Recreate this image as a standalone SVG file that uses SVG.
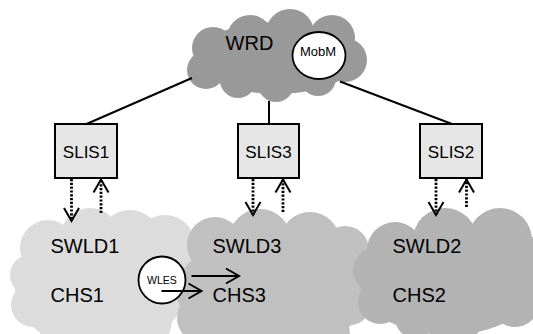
<svg xmlns="http://www.w3.org/2000/svg" width="533" height="334" viewBox="0 0 533 334">
<defs>
<style>
text{font-family:"Liberation Sans",Arial,sans-serif;fill:#000;text-anchor:middle}
.lbl{font-size:20px;text-anchor:start}
.box{fill:#e6e6e6;stroke:#000;stroke-width:2}
.slis{font-size:17px}
.conn{stroke:#000;stroke-width:2;fill:none}
.dot{stroke:#000;stroke-width:2.8;stroke-dasharray:2.2 1.6;fill:none}
.circ{fill:#fff;stroke:#000;stroke-width:1.8}
</style>
<marker id="v" markerUnits="userSpaceOnUse" markerWidth="20" markerHeight="20" orient="auto" overflow="visible" refX="0" refY="0">
<path d="M-13,-7.5 L0,0 L-13,7.5" fill="none" stroke="#000" stroke-width="2" stroke-dasharray="none"/>
</marker>
</defs>

<g id="SWLD1">
<g fill="#dcdcdc">
<ellipse cx="100" cy="290" rx="85" ry="60"/>
<circle cx="48" cy="248" r="28"/>
<circle cx="90" cy="238" r="30"/>
<circle cx="130" cy="240" r="30"/>
<circle cx="165" cy="245" r="30"/>
<circle cx="178" cy="262" r="20"/>
<circle cx="30" cy="275" r="20"/>
<circle cx="33" cy="305" r="22"/>
<circle cx="75" cy="335" r="35"/>
<circle cx="140" cy="320" r="32"/>
</g>
<text class="lbl" x="50.5" y="253">SWLD1</text>
<text class="lbl" x="50.5" y="301.5">CHS1</text>
</g>

<g id="SWLD3">
<g fill="#c0c0c0">
<ellipse cx="272" cy="292" rx="95" ry="60"/>
<circle cx="215" cy="245" r="28"/>
<circle cx="260" cy="240" r="31"/>
<circle cx="310" cy="242" r="30"/>
<circle cx="345" cy="250" r="24"/>
<circle cx="195" cy="287" r="22"/>
<circle cx="202" cy="318" r="25"/>
<circle cx="250" cy="335" r="35"/>
<circle cx="315" cy="335" r="35"/>
<circle cx="350" cy="305" r="20"/>
</g>
<text class="lbl" x="212.5" y="253">SWLD3</text>
<text class="lbl" x="212.5" y="301.5">CHS3</text>
</g>

<g id="SWLD2">
<g fill="#b3b3b3">
<ellipse cx="448" cy="283" rx="88" ry="52"/>
<circle cx="395" cy="250" r="28"/>
<circle cx="445" cy="240" r="32"/>
<circle cx="500" cy="240" r="32"/>
<circle cx="530" cy="262" r="25"/>
<circle cx="375" cy="270" r="22"/>
<circle cx="380" cy="302" r="22"/>
<circle cx="415" cy="318" r="20"/>
<circle cx="460" cy="320" r="22"/>
<circle cx="515" cy="303" r="24"/>
</g>
<text class="lbl" x="392.5" y="253">SWLD2</text>
<text class="lbl" x="392.5" y="301.5">CHS2</text>
</g>

<g id="WRD">
<g fill="#999999">
<ellipse cx="277" cy="58" rx="80" ry="36"/>
<circle cx="213" cy="48" r="21"/>
<circle cx="250" cy="38" r="23"/>
<circle cx="290" cy="33" r="24"/>
<circle cx="332" cy="38" r="23"/>
<circle cx="345" cy="60" r="22"/>
<circle cx="206" cy="70" r="19"/>
<circle cx="238" cy="80" r="18"/>
<circle cx="276" cy="84" r="18"/>
<circle cx="318" cy="78" r="18"/>
</g>
<text x="249.5" y="50" style="font-size:20px">WRD</text>
</g>

<g id="MobM">
<ellipse class="circ" cx="319" cy="55.5" rx="26.5" ry="23.5"/>
<text x="318" y="55.5" style="font-size:13px">MobM</text>
</g>

<g id="SLIS1">
<rect class="box" x="55" y="124" width="62" height="54"/>
<text class="slis" x="86" y="158">SLIS1</text>
</g>
<g id="SLIS3">
<rect class="box" x="238" y="124" width="61" height="54"/>
<text class="slis" x="268.5" y="158">SLIS3</text>
</g>
<g id="SLIS2">
<rect class="box" x="420" y="124" width="62" height="54"/>
<text class="slis" x="451" y="158">SLIS2</text>
</g>

<g id="WLES">
<circle class="circ" cx="162" cy="280" r="23.5"/>
<text x="162" y="283.5" style="font-size:10.5px">WLES</text>
</g>

<g id="connectors">
<line class="conn" x1="86.5" y1="124" x2="192" y2="78"/>
<line class="conn" x1="269" y1="101" x2="269" y2="124"/>
<line class="conn" x1="340" y1="81.5" x2="452" y2="124"/>
<line class="dot" x1="71.5" y1="179" x2="71.5" y2="221" marker-end="url(#v)"/>
<line class="dot" x1="101" y1="213" x2="101" y2="179.5" marker-end="url(#v)"/>
<line class="dot" x1="253" y1="179" x2="253" y2="215" marker-end="url(#v)"/>
<line class="dot" x1="283" y1="212" x2="283" y2="179.5" marker-end="url(#v)"/>
<line class="dot" x1="436" y1="179" x2="436" y2="215" marker-end="url(#v)"/>
<line class="dot" x1="466.5" y1="207" x2="466.5" y2="179.5" marker-end="url(#v)"/>
<line class="conn" x1="191.5" y1="276" x2="239" y2="276" marker-end="url(#v)"/>
<line class="conn" x1="161.5" y1="291" x2="201.5" y2="291" marker-end="url(#v)"/>
</g>
</svg>
